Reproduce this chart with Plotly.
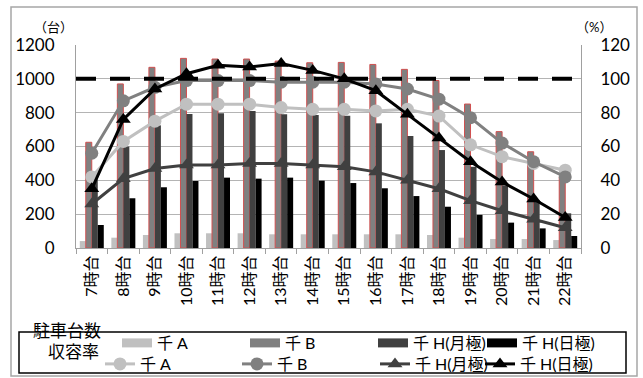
import plotly.graph_objects as go

# ---- data -------------------------------------------------------------
hours = ["7時台", "8時台", "9時台", "10時台", "11時台", "12時台", "13時台", "14時台",
         "15時台", "16時台", "17時台", "18時台", "19時台", "20時台", "21時台", "22時台"]

# 駐車台数 (台)
cnt_A = [41, 61, 77, 87, 87, 87, 81, 81, 81, 81, 81, 77, 61, 53, 53, 47]
cnt_B = [625, 970, 1068, 1121, 1117, 1117, 1105, 1095, 1097, 1085, 1056, 990, 851, 688, 569, 421]
cnt_H_month = [420, 600, 725, 792, 796, 810, 790, 786, 782, 737, 662, 579, 480, 370, 280, 205]
cnt_H_day = [136, 294, 359, 396, 416, 410, 416, 398, 384, 353, 307, 244, 196, 150, 116, 71]

# 収容率 (%)
rate_A = [42, 63, 75, 85, 85, 85, 83, 82, 82, 81, 82, 78, 61, 54, 50, 46]
rate_B = [56, 87, 95, 99, 99, 99, 98, 98, 98, 97, 94, 88, 77, 62, 51, 42]
rate_H_month = [26, 41, 47, 49, 49, 50, 50, 49, 48, 45, 40, 35, 28, 22, 17, 12]
rate_H_day = [35, 76, 94, 103, 108, 107, 109, 105, 100, 93, 79, 65, 51, 39, 29, 18]

full_rate = 100

names = ["千 A", "千 B", "千 H(月極)", "千 H(日極)"]
colors = ["#c0c0c0", "#808080", "#404040", "#000000"]

FONT = "Lato, 'Noto Sans CJK JP', sans-serif"

# plot area geometry (px)
W, H = 643, 378
L, R, T, B = 76, 62, 45, 130
PW, PH = W - L - R, H - T - B


def px_x(px):
    return (px - L) / PW


def px_y(py):
    return (H - B - py) / PH


fig = go.Figure()

# legend item left edges (px) for the two legend rows
row1_x = [117, 245, 373, 482]
row2_x = [100, 237, 375, 480]
row1_y, row2_y = 343, 364

layout_legends = {}
counts = [cnt_A, cnt_B, cnt_H_month, cnt_H_day]
for i, (nm, c, vals) in enumerate(zip(names, colors, counts)):
    line = dict(color="#d05050", width=1) if i == 1 else dict(width=0)
    lg = "legend" if i == 0 else "legend%d" % (i + 1)
    fig.add_trace(go.Bar(x=hours, y=vals, name=nm, marker=dict(color=c, line=line),
                         yaxis="y", showlegend=False, legendgroup="bar" + str(i)))
    # legend proxy (wide swatch)
    fig.add_trace(go.Scatter(x=[None], y=[None], mode="lines", name=nm,
                             line=dict(color=c, width=9), legend=lg,
                             legendgroup="bar" + str(i), hoverinfo="skip"))
    layout_legends[lg] = (row1_x[i], row1_y)

rates = [rate_A, rate_B, rate_H_month, rate_H_day]
symbols = ["circle", "circle", "triangle-up", "triangle-up"]
for i, (nm, c, vals, sym) in enumerate(zip(names, colors, rates, symbols)):
    lg = "legend%d" % (i + 5)
    fig.add_trace(go.Scatter(x=hours, y=vals, name=nm, mode="lines+markers",
                             line=dict(color=c, width=3),
                             marker=dict(symbol=sym, size=13, color=c),
                             yaxis="y2", legend=lg))
    layout_legends[lg] = (row2_x[i], row2_y)

fig.add_shape(type="line", xref="paper", x0=0, x1=1, yref="y2", y0=full_rate, y1=full_rate,
              line=dict(color="black", width=4, dash="20px,14px"), layer="above")

# outer frame and legend frame
fig.add_shape(type="rect", xref="paper", yref="paper",
              x0=px_x(11), x1=px_x(637), y0=px_y(376), y1=px_y(7),
              line=dict(color="#a6a6a6", width=1.5), layer="below")
fig.add_shape(type="rect", xref="paper", yref="paper",
              x0=px_x(19), x1=px_x(626), y0=px_y(373), y1=px_y(332),
              line=dict(color="black", width=1.5))

ann = [
    dict(text="（台）", x=px_x(33), y=px_y(18), size=13),
    dict(text="（%）", x=px_x(613), y=px_y(18), size=13),
]
for a in ann:
    fig.add_annotation(text=a["text"], x=a["x"], y=a["y"], xref="paper", yref="paper",
                       showarrow=False, borderpad=0,
                       font=dict(size=a["size"], color="black", family=FONT))
fig.add_annotation(text="駐車台数", x=px_x(103), y=px_y(row1_y), xref="paper", yref="paper",
                   xanchor="right", showarrow=False, font=dict(size=17, color="black", family=FONT))
fig.add_annotation(text="収容率", x=px_x(101), y=px_y(row2_y), xref="paper", yref="paper",
                   xanchor="right", showarrow=False, font=dict(size=17, color="black", family=FONT))

legend_common = dict(orientation="h", xanchor="left", yanchor="middle",
                     bgcolor="rgba(0,0,0,0)", borderwidth=0,
                     font=dict(size=16, color="black", family=FONT),
                     itemclick=False, itemdoubleclick=False)
legend_layout = {k: dict(x=px_x(v[0]), y=px_y(v[1]), **legend_common)
                 for k, v in layout_legends.items()}

fig.update_layout(
    width=W, height=H,
    margin=dict(l=L, r=R, t=T, b=B, autoexpand=False),
    paper_bgcolor="white", plot_bgcolor="white",
    font=dict(family=FONT, color="black"),
    barmode="group", bargap=0.24, bargroupgap=0,
    xaxis=dict(type="category", range=[-0.5, len(hours) - 0.5], autorange=False,
               tickangle=-90, tickfont=dict(size=16, color="black"),
               showline=True, linecolor="#a0a0a0", linewidth=1,
               ticks="outside", tickson="boundaries", ticklen=5, tickcolor="#a0a0a0",
               showgrid=False, automargin=False),
    yaxis=dict(range=[0, 1200], dtick=200, showgrid=True, gridcolor="#b4b4b4", gridwidth=1,
               showline=True, linecolor="#a0a0a0", linewidth=1, zeroline=False,
               tickfont=dict(size=17, color="black"),
               ticks="outside", ticklen=17, tickcolor="rgba(0,0,0,0)",
               automargin=False),
    yaxis2=dict(range=[0, 120], dtick=20, overlaying="y", side="right", showgrid=False,
                showline=True, linecolor="#a0a0a0", linewidth=1, zeroline=False,
                tickfont=dict(size=17, color="black"),
                ticks="outside", ticklen=15, tickcolor="rgba(0,0,0,0)",
                automargin=False),
    **legend_layout,
)

fig.write_html("out.html", config={"displayModeBar": False},
               post_script="document.body.style.margin='0px';document.body.style.overflow='hidden';")
